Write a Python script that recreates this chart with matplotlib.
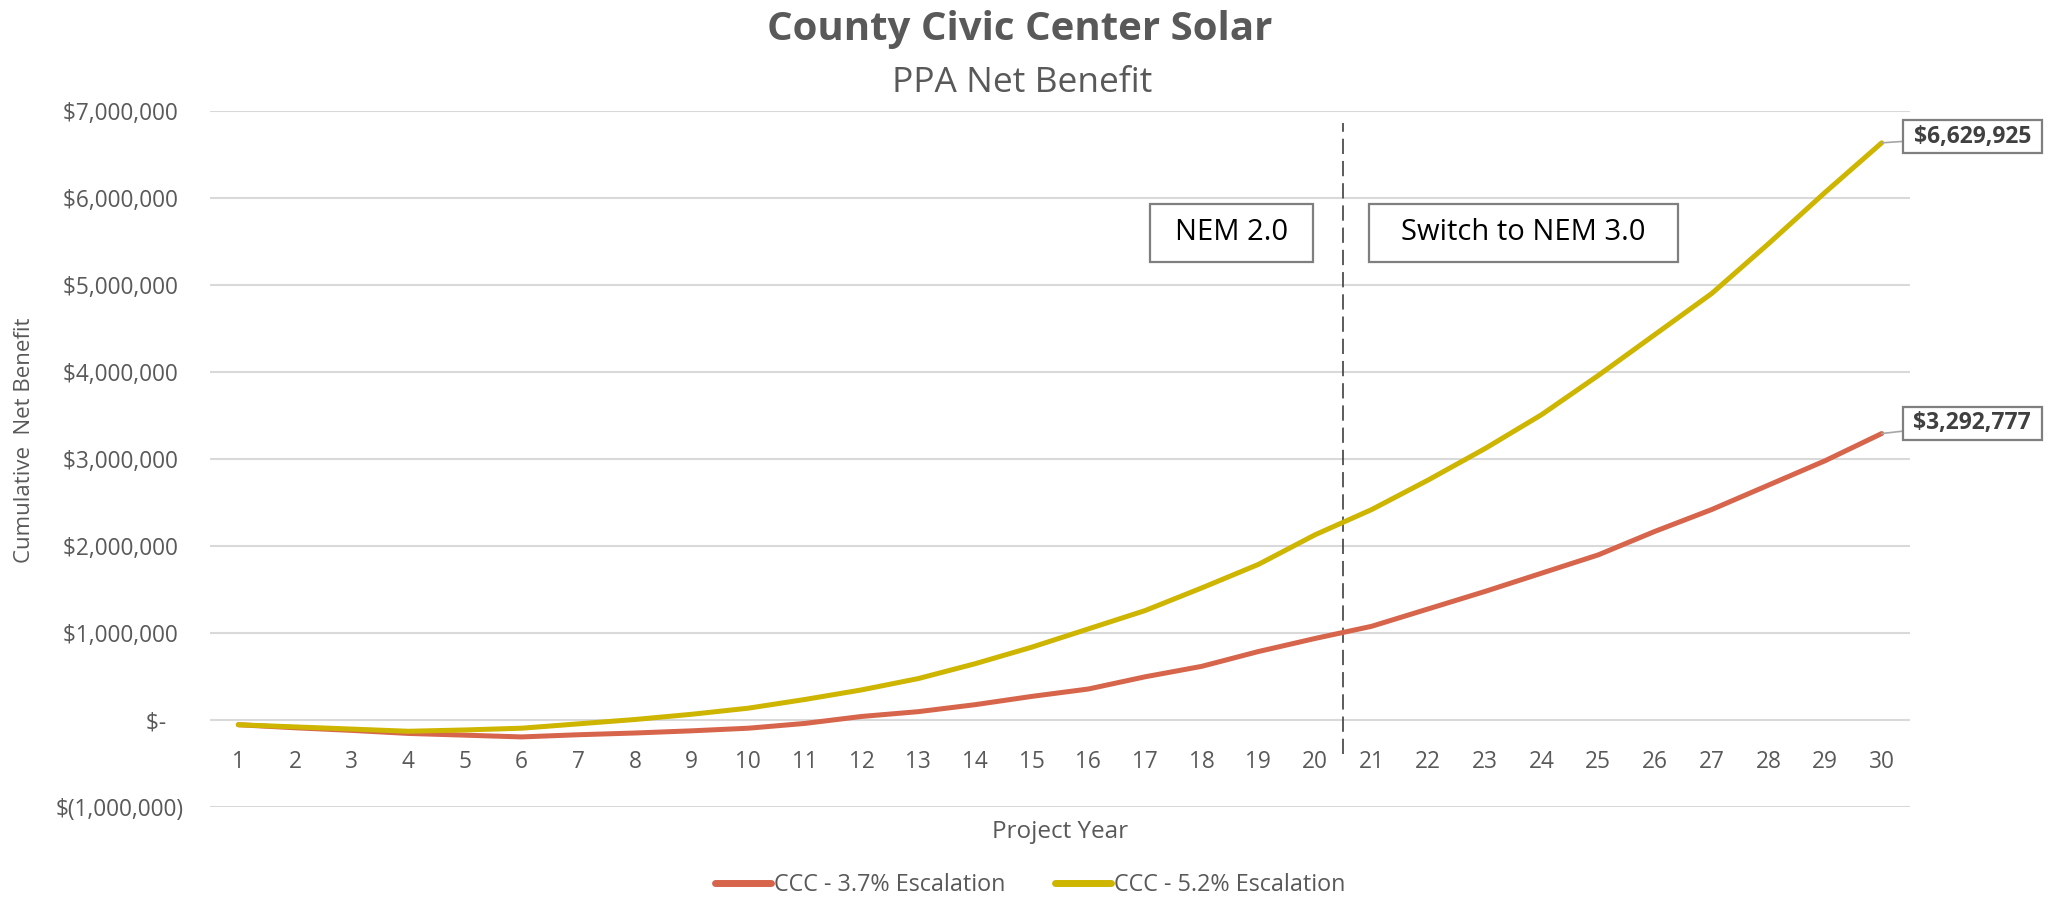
import matplotlib
matplotlib.use("Agg")
import matplotlib.pyplot as plt
from matplotlib.patches import Rectangle
import numpy as np

plt.rcParams['font.family'] = ['Open Sans', 'DejaVu Sans']
plt.rcParams['lines.scale_dashes'] = False

# data (cumulative net benefit, $)
years = list(range(1, 31))
esc_37 = [-50000, -85000, -115000, -150000, -170000, -190000, -165000, -145000,
          -120000, -90000, -35000, 45000, 100000, 180000, 275000, 360000,
          500000, 620000, 790000, 940000, 1080000, 1280000, 1480000, 1690000,
          1900000, 2170000, 2420000, 2700000, 2980000, 3292777]
esc_52 = [-50000, -75000, -100000, -125000, -110000, -90000, -40000, 10000,
          70000, 140000, 240000, 350000, 480000, 650000, 840000, 1050000,
          1260000, 1520000, 1790000, 2130000, 2420000, 2760000, 3120000,
          3510000, 3960000, 4430000, 4900000, 5470000, 6060000, 6629925]
series_names = ["CCC - 3.7% Escalation", "CCC - 5.2% Escalation"]
series_colors = ["#D6654B", "#CDB500"]

yticks = [-1000000, 0, 1000000, 2000000, 3000000, 4000000, 5000000, 6000000, 7000000]
switch_year = 20.5

grey = "#595959"


def money(v):
    # excel accounting style
    if v == 0:
        return "$-   "
    if v < 0:
        return "$({:,.0f})".format(-v)
    return "${:,.0f} ".format(v)


fig = plt.figure(figsize=(20.64, 8.97), dpi=100)
ax = fig.add_axes([210 / 2064, 0.0998, 1700 / 2064, 0.7769])

for vals, name, col in zip([esc_37, esc_52], series_names, series_colors):
    ax.plot(years, vals, color=col, lw=3.6, label=name,
            solid_capstyle='round', solid_joinstyle='round', zorder=3)

ax.set_xlim(0.5, 30.5)
ax.set_ylim(yticks[0], yticks[-1])
ax.set_xticks(years)
ax.set_xticklabels([str(y) for y in years])
ax.set_yticks(yticks)
ax.set_yticklabels([money(v) for v in yticks])
ax.yaxis.grid(True, color="#D9D9D9", lw=1.5)
ax.set_axisbelow(True)
for s in ax.spines.values():
    s.set_color('none')
ax.spines['bottom'].set_position(('data', 0))
ax.tick_params(axis='both', length=0, labelsize=16.3, labelcolor=grey)
ax.tick_params(axis='x', pad=21)
ax.tick_params(axis='y', pad=19)

# NEM switch marker
ax.plot([switch_year, switch_year], [-385000, 6860000], color="#404040", lw=1.2,
        dashes=(11, 5), clip_on=False, zorder=2)

# text boxes
ax.add_patch(Rectangle((17.08, 5265000), 19.96 - 17.08, 665000, fc='white',
                       ec='#7F7F7F', lw=1.6, zorder=4))
ax.text(18.52, 5600000, "NEM 2.0", ha='center', va='center', fontsize=21,
        color='black', zorder=5)
ax.add_patch(Rectangle((20.96, 5265000), 26.41 - 20.96, 665000, fc='white',
                       ec='#7F7F7F', lw=1.6, zorder=4))
ax.text(23.68, 5600000, "Switch to NEM 3.0", ha='center', va='center',
        fontsize=21, color='black', zorder=5)

# end labels
for vals, ty in zip([esc_52, esc_37], [6700000, 3410000]):
    ax.annotate(" " + "${:,.0f}".format(vals[-1]) + " ", xy=(years[-1], vals[-1]),
                xytext=(31.6, ty), ha='center', va='center', fontsize=16.5,
                fontweight='bold', color="#404040", annotation_clip=False,
                bbox=dict(boxstyle='square,pad=0.2', fc='white', ec='#7F7F7F', lw=1.6),
                arrowprops=dict(arrowstyle='-', color='#A6A6A6', lw=1.2,
                                shrinkA=0, shrinkB=0), zorder=6)

ax.set_xlabel("Project Year", fontsize=17.5, color=grey)
ax.xaxis.label.set_va('center')
ax.xaxis.set_label_coords(0.5, -0.035)
ax.set_ylabel("Cumulative  Net Benefit", fontsize=16, color=grey)
ax.yaxis.label.set_va('center')
ax.yaxis.set_label_coords(-0.109, 0.527)

fig.text(1020 / 2064, 1 - 40 / 897, "County Civic Center Solar", ha='center',
         va='baseline', fontsize=29, fontweight='bold', color=grey)
fig.text(1022 / 2064, 1 - 92 / 897, "PPA Net Benefit", ha='center',
         va='baseline', fontsize=25.5, color=grey)

leg = fig.legend(loc='center', bbox_to_anchor=(1030 / 2064, 1 - 885 / 897), ncol=2,
                 frameon=False, fontsize=16.8, handlelength=2.4, handletextpad=0.15,
                 columnspacing=2.1)
for t in leg.get_texts():
    t.set_color(grey)
for h in leg.get_lines():
    h.set_linewidth(5)

fig.savefig("out.png", dpi=100)
